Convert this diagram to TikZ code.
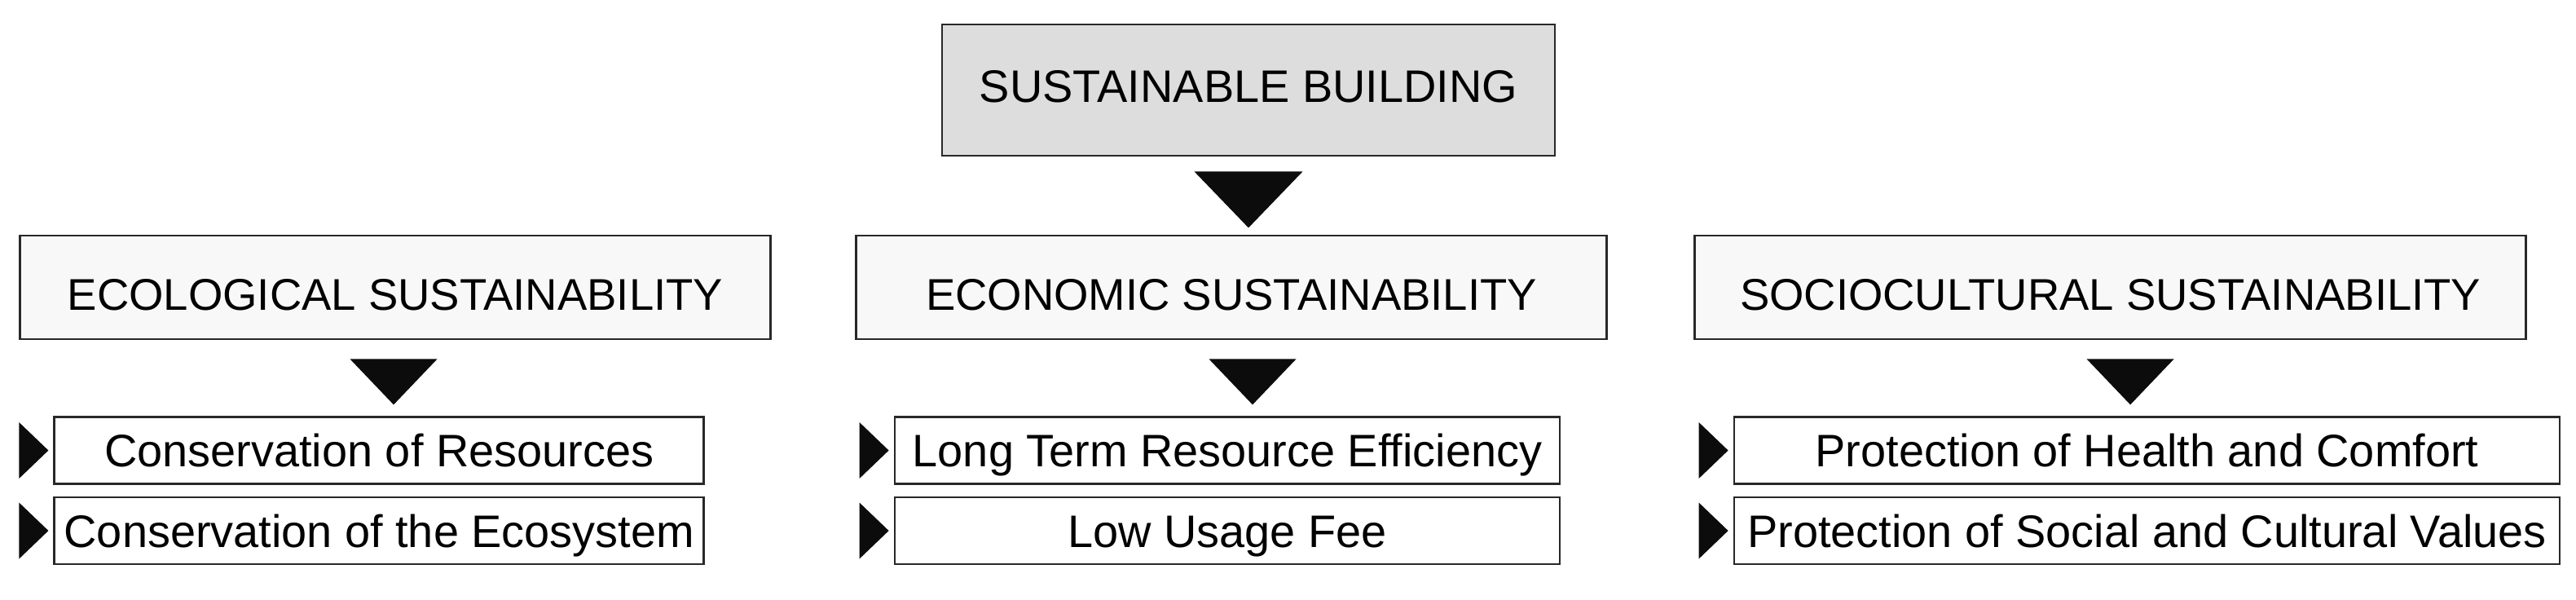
\documentclass[tikz,border=0pt]{standalone}
\usepackage{fontspec}
\setmainfont{Liberation Sans}
\usepackage{xcolor}
\usepackage{tikz}
\usetikzlibrary{calc}
\definecolor{framecolor}{RGB}{40,40,40}
\definecolor{buildingcolor}{RGB}{221,221,221}
\definecolor{pillarcolor}{RGB}{248,248,248}
\definecolor{headcolor}{RGB}{12,12,12}

\tikzset{
  buildingbox/.style={draw=framecolor, line width=0.8pt, fill=buildingcolor, minimum width=7.52cm, minimum height=1.61cm, inner sep=0pt, text height=0.30cm, text depth=0pt, font=\fontsize{15.9pt}{19pt}\selectfont},
  pillarbox/.style={draw=framecolor, line width=0.8pt, fill=pillarcolor, minimum height=1.27cm, inner sep=0pt, text height=0.55cm, text depth=0pt, font=\fontsize{15.5pt}{19pt}\selectfont},
  goalbox/.style={draw=framecolor, line width=0.8pt, fill=white, minimum height=0.82cm, inner sep=0pt, text height=0.40cm, text depth=0pt, font=\fontsize{15.9pt}{19pt}\selectfont},
  headfill/.style={fill=headcolor}
}

\begin{document}
\begin{tikzpicture}
        \useasboundingbox[fill=white] (0,0) rectangle (31.61,-7.35);

        % Top Box
        \node[buildingbox] (building) at (15.32,-1.105) {SUSTAINABLE BUILDING};
        \fill[headfill] ($(building.south)+(-0.665,-0.18)$) -- ++(1.33,0) -- ++(-0.665,-0.69) -- cycle;

        % Pillar Boxes
        \node[pillarbox, minimum width=9.21cm] (ecological) at (4.85,-3.525) {ECOLOGICAL SUSTAINABILITY};
        \node[pillarbox, minimum width=9.21cm] (economic) at (15.11,-3.525) {ECONOMIC SUSTAINABILITY};
        \node[pillarbox, minimum width=10.20cm] (sociocultural) at (25.896,-3.525) {SOCIOCULTURAL SUSTAINABILITY};

        % Pillar Heads
        \fill[headfill] ($(ecological.south)+(-0.555,-0.23)$) -- ++(1.07,0) -- ++(-0.535,-0.56) -- cycle;
        \fill[headfill] ($(economic.south)+(-0.275,-0.23)$) -- ++(1.07,0) -- ++(-0.535,-0.56) -- cycle;
        \fill[headfill] ($(sociocultural.south)+(-0.29,-0.23)$) -- ++(1.07,0) -- ++(-0.535,-0.56) -- cycle;

        % Ecological Goals
        \node[goalbox, minimum width=7.97cm] (resources) at (4.653,-5.525) {Conservation of Resources};
        \node[goalbox, minimum width=7.97cm] (ecosystem) at (4.653,-6.51) {Conservation of the Ecosystem};

        % Economic Goals
        \node[goalbox, minimum width=8.16cm] (efficiency) at (15.06,-5.525) {Long Term Resource Efficiency};
        \node[goalbox, minimum width=8.16cm] (fee) at (15.06,-6.51) {Low Usage Fee};

        % Sociocultural Goals
        \node[goalbox, minimum width=10.13cm] (health) at (26.345,-5.525) {Protection of Health and Comfort};
        \node[goalbox, minimum width=10.13cm] (values) at (26.345,-6.51) {Protection of Social and Cultural Values};

        % Goal Markers
        \fill[headfill] ($(resources.west)+(-0.42,0.345)$) -- ++(0.36,-0.345) -- ++(-0.36,-0.345) -- cycle;
        \fill[headfill] ($(ecosystem.west)+(-0.42,0.345)$) -- ++(0.36,-0.345) -- ++(-0.36,-0.345) -- cycle;
        \fill[headfill] ($(efficiency.west)+(-0.42,0.345)$) -- ++(0.36,-0.345) -- ++(-0.36,-0.345) -- cycle;
        \fill[headfill] ($(fee.west)+(-0.42,0.345)$) -- ++(0.36,-0.345) -- ++(-0.36,-0.345) -- cycle;
        \fill[headfill] ($(health.west)+(-0.42,0.345)$) -- ++(0.36,-0.345) -- ++(-0.36,-0.345) -- cycle;
        \fill[headfill] ($(values.west)+(-0.42,0.345)$) -- ++(0.36,-0.345) -- ++(-0.36,-0.345) -- cycle;
    \end{tikzpicture}
\end{document}
